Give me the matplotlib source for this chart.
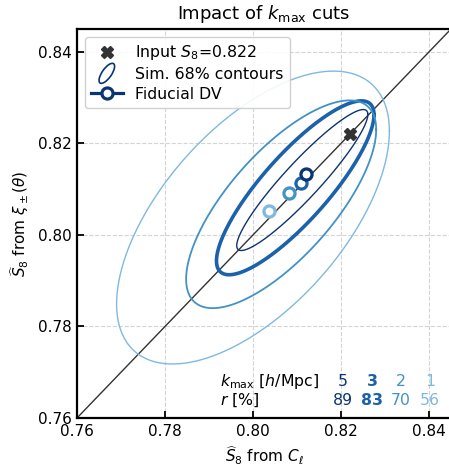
#Imports
import numpy as np
import matplotlib
matplotlib.use('Agg')
from matplotlib import pyplot as plt
from matplotlib.patches import Ellipse
from matplotlib.lines import Line2D
from matplotlib.legend_handler import HandlerPatch

# valores
kmax_labels = ['5', '3', '2', '1']
r_labels = ['89', '83', '70', '56']
colors = ['#0b3473', '#1c62aa', '#4292c6', '#80b9de']
line_widths = [1.0, 2.6, 1.3, 1.0]

s8_input = 0.822

# pontos do DV fiducial
dv_x = [0.8120, 0.8110, 0.8082, 0.8036]
dv_y = [0.8133, 0.8113, 0.8091, 0.8052]

# contornos 68%: centro, meia-extensao em x e y, correlacao
cont_cx = [0.8112, 0.8096, 0.8064, 0.8000]
cont_cy = [0.8120, 0.8103, 0.8067, 0.8038]
cont_sx = [0.0149, 0.0179, 0.0216, 0.0310]
cont_sy = [0.0154, 0.0190, 0.0227, 0.0320]
cont_rho = [0.93, 0.84, 0.72, 0.59]

ticks = [0.76, 0.78, 0.80, 0.82, 0.84]
lim = (0.76, 0.845)


# elipse inclinada na legenda
class HandlerEllipse(HandlerPatch):
    def create_artists(self, legend, orig_handle, xdescent, ydescent,
                       width, height, fontsize, trans):
        center = 0.5 * width - 0.5 * xdescent, 0.5 * height - 0.5 * ydescent
        p = Ellipse(xy=center, width=0.75 * width, height=0.3 * width, angle=55)
        self.update_prop(p, orig_handle, legend)
        p.set_transform(trans)
        return [p]


fig = plt.figure(figsize=(4.49, 4.73), dpi=100)
ax = fig.add_axes([77 / 449, 1 - 418 / 473, (451 - 77) / 449, (418 - 29) / 473])

# linha diagonal
ax.plot(lim, lim, color='#333333', lw=1.0, zorder=2)

# contornos
t = np.linspace(0, 2 * np.pi, 400)
for i in range(len(kmax_labels)):
    x = cont_cx[i] + cont_sx[i] * np.cos(t)
    y = cont_cy[i] + cont_sy[i] * (cont_rho[i] * np.cos(t) + np.sqrt(1 - cont_rho[i] ** 2) * np.sin(t))
    ax.plot(x, y, color=colors[i], lw=line_widths[i], zorder=3)

# input S8
ax.plot([s8_input], [s8_input], marker='X', color='#333333', ms=8, ls='none', zorder=5)

# pontos fiduciais (do mais claro para o mais escuro)
for i in reversed(range(len(kmax_labels))):
    ax.plot([dv_x[i]], [dv_y[i]], marker='o', ms=8, mfc='white', mec=colors[i],
            mew=2.3, ls='none', zorder=6)

# tabela kmax / r
ax.text(0.7925, 0.7679, r'$k_{\rm max}$ [$h$/Mpc]', fontsize=11.3, va='center')
ax.text(0.7925, 0.7638, r'$r$ [%]', fontsize=11.3, va='center')
col_x = [0.8205, 0.8271, 0.8336, 0.8402]
for i in range(len(kmax_labels)):
    w = 'bold' if i == 1 else 'normal'
    ax.text(col_x[i], 0.7679, kmax_labels[i], color=colors[i], fontsize=11.3,
            ha='center', va='center', fontweight=w)
    ax.text(col_x[i], 0.7638, r_labels[i], color=colors[i], fontsize=11.3,
            ha='center', va='center', fontweight=w)

ax.set_xlim(lim)
ax.set_ylim(lim)
ax.set_xticks(ticks)
ax.set_yticks(ticks)
ax.tick_params(direction='in', length=5, width=1.3, labelsize=11, pad=4)
for s in ax.spines.values():
    s.set_linewidth(1.6)
ax.grid(True, ls='--', color='#d4d4d4', lw=0.8)

ax.set_title(r'Impact of $k_{\rm max}$ cuts', fontsize=13, pad=7)
ax.set_xlabel(r'$\widehat{S}_8$ from $C_\ell$', fontsize=11, labelpad=4)
ax.set_ylabel(r'$\widehat{S}_8$ from $\xi_\pm(\theta)$', fontsize=11, labelpad=5)

# legenda
h_input = Line2D([], [], marker='X', color='#333333', ms=8, ls='none')
h_cont = Ellipse((0, 0), 1, 1, fill=False, edgecolor=colors[0], lw=1.2)
h_dv = Line2D([], [], marker='o', color=colors[0], lw=2.3, ms=8, mfc='white',
              mec=colors[0], mew=2.3)
ax.legend([h_input, h_cont, h_dv],
          [r'Input $S_8$=0.822', 'Sim. 68% contours', 'Fiducial DV'],
          handler_map={Ellipse: HandlerEllipse()},
          loc='upper left', fontsize=11.3, framealpha=0.9, edgecolor='#cccccc',
          borderpad=0.4, labelspacing=0.3, handletextpad=0.8)

fig.savefig('out.png', dpi=100)
